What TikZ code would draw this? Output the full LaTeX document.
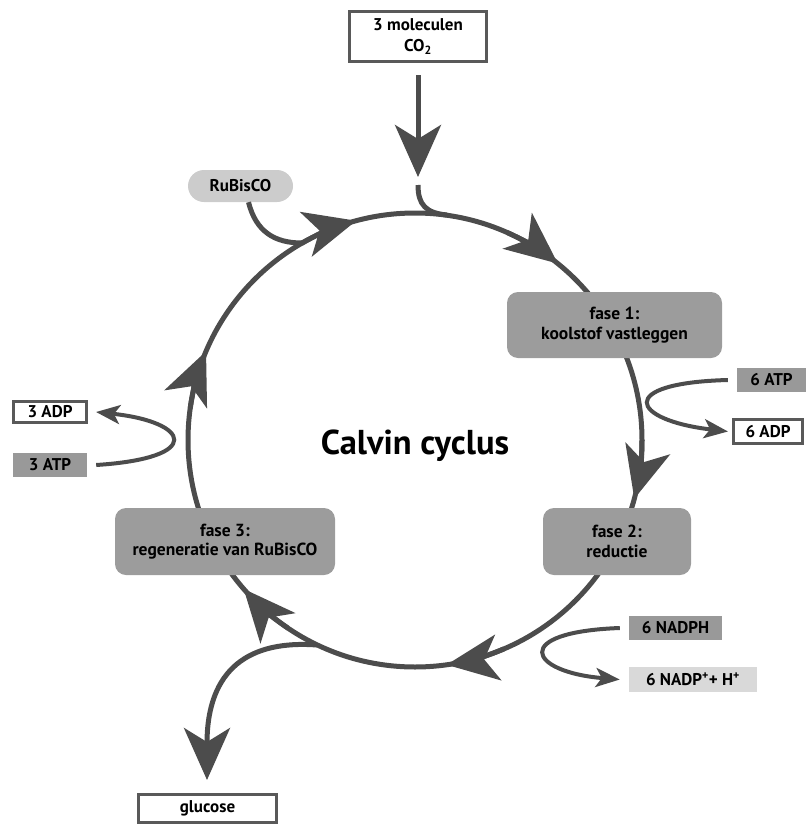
\documentclass[tikz,border=0pt]{standalone}
\usepackage{fontspec}
\setmainfont{PT Sans}
\usetikzlibrary{arrows.meta}

\begin{document}
\begin{tikzpicture}[x=1pt,y=-1pt,
  cyc/.style={line width=5pt,draw=black!70},
  bigtip/.style={-{Stealth[length=52pt,width=46pt,inset=14pt]}},
  looparrow/.style={line width=4pt,draw=black!70,-{Stealth[length=24pt,width=19pt,inset=6pt]}},
  fase/.style={fill=black!39,rounded corners=11pt,inner sep=0pt,align=center,font=\bfseries\fontsize{17.5}{19.5}\selectfont},
  outbox/.style={draw=black!65,line width=3pt,fill=white,inner sep=0pt,align=center,font=\bfseries\fontsize{17}{21}\selectfont},
  tagbox/.style={inner sep=0pt,font=\bfseries\fontsize{17}{20}\selectfont}]
\useasboundingbox (0,0) rectangle (806,827);
\coordinate (c) at (415,440);
% the cycle with its six arrow heads
\draw[cyc] (c) circle[radius=227];
\foreach \a/\b in {-66/-51,0/15,67/82,124/139,188/203,240/255}
  \draw[cyc,bigtip] (c) ++(\a:227) arc[start angle=\a,end angle=\b,radius=227];

\node[outbox,minimum width=137,minimum height=50] (co2) at (418,36.5) {3 moleculen\\CO\textsubscript{2}};
\node[tagbox,fill=black!20,rounded corners=16pt,minimum width=105,minimum height=32] (rubisco) at (240.5,186) {RuBisCO};
\node[fase,minimum width=215,minimum height=66] (fase1) at (614.5,325) {fase 1:\\koolstof vastleggen};
\node[fase,minimum width=148,minimum height=67] (fase2) at (617,541.5) {fase 2:\\reductie};
\node[fase,minimum width=220,minimum height=67] (fase3) at (225,541.5) {fase 3:\\regeneratie van RuBisCO};
\node[tagbox,fill=black!40,minimum width=69,minimum height=24] (atp6) at (771.5,380) {6 ATP};
\node[outbox,minimum width=69,minimum height=24] (adp6) at (768,431.5) {6 ADP};
\node[outbox,minimum width=73,minimum height=21] (adp3) at (50,412) {3 ADP};
\node[tagbox,fill=black!40,minimum width=74,minimum height=24] (atp3) at (50,465) {3 ATP};
\node[tagbox,fill=black!40,minimum width=93,minimum height=24] (nadph) at (675.5,628) {6 NADPH};
\node[tagbox,fill=black!15,minimum width=128,minimum height=25] (nadp) at (693,679.5) {6 NADP\textsuperscript{+}+ H\textsuperscript{+}};
\node[outbox,minimum width=138,minimum height=28] (glucose) at (207.5,808.5) {glucose};
\node[font=\bfseries\fontsize{34.5}{40}\selectfont] (title) at (415,446) {Calvin cyclus};

% inputs and outputs
\coordinate (co2tip) at (418,177);
\coordinate (co2in) at (418,185);
\coordinate (join1) at (447,215);
\coordinate (join2) at (302,243);
\coordinate (join3) at (317,645);
\coordinate (glutip) at (207,780);
\draw[cyc,bigtip] ([yshift=-12pt]co2.south) -- (co2tip);
\draw[cyc] (co2in) .. controls (418,205) and (426,213) .. (join1);
\draw[cyc] ([xshift=8pt]rubisco.south) .. controls (256,232) and (275,243) .. (join2);
\draw[cyc,bigtip] (join3) .. controls (250,640) and (207,668) .. (glutip);
\draw[looparrow] ([xshift=-9pt]atp6.west) .. controls (615,383) and (630,420) .. ([xshift=-4pt]adp6.west);
\draw[looparrow] ([xshift=9pt]atp3.east) .. controls (205,458) and (190,422) .. ([xshift=8pt]adp3.east);
\draw[looparrow] ([xshift=-9pt]nadph.west) .. controls (510,632) and (528,672) .. ([xshift=-9pt]nadp.west);
\end{tikzpicture}
\end{document}
